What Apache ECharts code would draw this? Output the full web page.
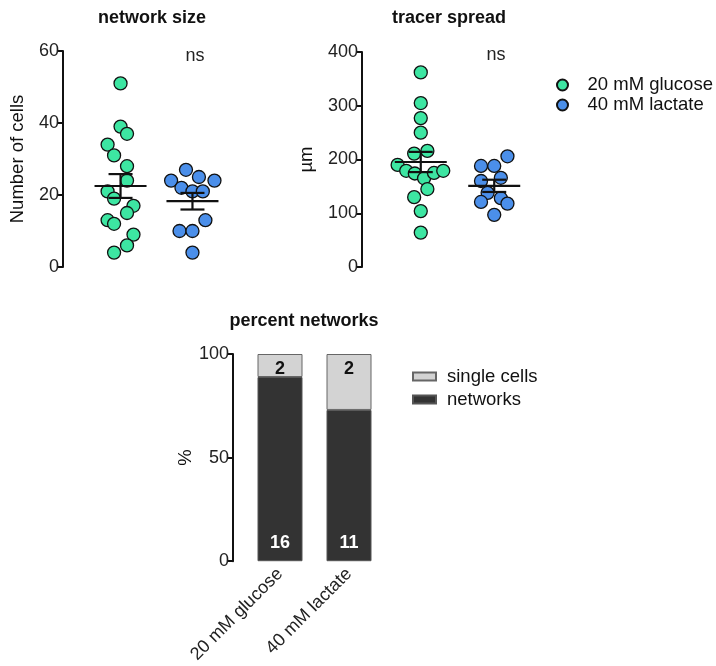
<!DOCTYPE html>
<html><head><meta charset="utf-8">
<script src="https://cdn.jsdelivr.net/npm/echarts@6/dist/echarts.min.js"></script>
<style>html,body{margin:0;padding:0;background:#fff}#c{width:716px;height:666px}</style>
</head><body><div id="c"></div>
<script>
// ---- data ----
const groupNames = ['20 mM glucose', '40 mM lactate'];
// network size (number of cells)
const sizeGlucose = [51, 39, 37, 34, 31, 28, 24, 21, 19, 17, 15, 13, 12, 9, 6, 4];
const sizeGlucoseCol = [0, 0, 1, -2, -1, 1, 1, -2, -1, 2, 1, -2, -1, 2, 1, -1];
const sizeLactate = [27, 24, 25, 24, 22, 21, 21, 13, 10, 10, 4];
const sizeLactateCol = [-1, -3.3, 1, 3.4, -1.7, 0, 1.6, 2, -2, 0, 0];
// tracer spread (µm)
const spreadGlucose = [362, 305, 277, 250, 216, 211, 190, 179, 174, 165, 175, 179, 145, 130, 104, 64];
const spreadGlucoseCol = [0, 0, 0, 0, 1, -1, -3.5, -2.2, -0.9, 0.5, 2, 3.4, 1, -1, 0, 0];
const spreadLactate = [206, 188, 188, 166, 160, 138, 128, 121, 118, 97];
const spreadLactateCol = [2, -2, 0, 1, -2, -1, 1, -2, 2, 0];
// percent networks
const barCategories = ['20 mM glucose', '40 mM lactate'];
const networkPct = [88.9, 73];
const singlePct = [11.1, 27];
const networkCounts = [16, 11];
const singleCounts = [2, 2];
const sizeTicks = {max: 60, interval: 20};
const spreadTicks = {max: 400, interval: 100};
const pctTicks = {max: 100, interval: 50};

// ---- styling ----
const FONT = '"Liberation Sans", Arial, Helvetica, sans-serif';
const GREEN = '#3de6a2', BLUE = '#4b8fea';
const STEP = 0.09;

function pts(vals, cols, center) { return vals.map((v, i) => [center + cols[i] * STEP, v]); }
function stats(vals) {
  const n = vals.length;
  const m = vals.reduce((a, b) => a + b, 0) / n;
  const sd = Math.sqrt(vals.reduce((a, b) => a + (b - m) * (b - m), 0) / (n - 1));
  return [m, sd / Math.sqrt(n)];
}
function errSeries(ai, groups) {
  return {
    type: 'custom', xAxisIndex: ai, yAxisIndex: ai, z: 5, silent: true,
    encode: {x: 0, y: 1},
    data: groups.map((g, i) => [i + 1].concat(stats(g))),
    renderItem: function (params, api) {
      const x = api.value(0), m = api.value(1), s = api.value(2);
      const c = api.coord([x, m]), hi = api.coord([x, m + s]), lo = api.coord([x, m - s]);
      const st = {stroke: '#111', lineWidth: 2.2};
      return {type: 'group', children: [
        {type: 'line', shape: {x1: c[0] - 26, y1: c[1], x2: c[0] + 26, y2: c[1]}, style: st},
        {type: 'line', shape: {x1: c[0], y1: hi[1], x2: c[0], y2: lo[1]}, style: st},
        {type: 'line', shape: {x1: c[0] - 12, y1: hi[1], x2: c[0] + 12, y2: hi[1]}, style: st},
        {type: 'line', shape: {x1: c[0] - 12, y1: lo[1], x2: c[0] + 12, y2: lo[1]}, style: st}
      ]};
    }
  };
}
function yAx(gi, t, name, nameGap, offset) {
  return {
    type: 'value', gridIndex: gi, min: 0, max: t.max, interval: t.interval, offset: offset || 0,
    name: name, nameLocation: 'middle', nameGap: nameGap,
    nameTextStyle: {fontSize: 18.5, fontFamily: FONT, color: '#111'},
    axisLine: {show: true, lineStyle: {color: '#111', width: 2}},
    axisTick: {show: true, length: 6, lineStyle: {color: '#111', width: 2}},
    axisLabel: {fontSize: 18, fontFamily: FONT, color: '#222', margin: 4},
    splitLine: {show: false}
  };
}
function xVal(gi) { return {type: 'value', gridIndex: gi, min: 0.2, max: 2.8, show: false}; }
function scat(ai, name, data, color) {
  return {type: 'scatter', name: name, xAxisIndex: ai, yAxisIndex: ai, data: data, symbolSize: 13, z: 3,
    itemStyle: {color: color, borderColor: '#111', borderWidth: 1.3, opacity: 1}};
}

const titleStyle = {fontSize: 18, fontWeight: 'bold', fontFamily: FONT, color: '#111'};
const nsStyle = {fontSize: 18, fontWeight: 'normal', fontFamily: FONT, color: '#222'};

const option = {
  animation: false,
  backgroundColor: '#fff',
  title: [
    {text: 'network size', left: 152, top: 9, textAlign: 'center', textStyle: titleStyle, padding: 0},
    {text: 'tracer spread', left: 449, top: 9, textAlign: 'center', textStyle: titleStyle, padding: 0},
    {text: 'percent networks', left: 304, top: 312, textAlign: 'center', textStyle: titleStyle, padding: 0},
    {text: 'ns', left: 195, top: 47, textAlign: 'center', textStyle: nsStyle, padding: 0},
    {text: 'ns', left: 496, top: 46, textAlign: 'center', textStyle: nsStyle, padding: 0}
  ],
  legend: [
    {data: groupNames, left: 556, top: 75, padding: 0, orient: 'vertical', itemWidth: 40, itemHeight: 11, itemGap: 0,
      icon: 'circle', selectedMode: false,
      textStyle: {fontSize: 18.5, fontFamily: FONT, color: '#111', lineHeight: 20}},
    {data: ['single cells', 'networks'], left: 412, top: 365, padding: 0, orient: 'vertical', itemWidth: 23, itemHeight: 8, itemGap: 0,
      icon: 'rect', selectedMode: false,
      textStyle: {fontSize: 18.5, fontFamily: FONT, color: '#111', lineHeight: 23, padding: [0, 0, 0, 6]}}
  ],
  grid: [
    {left: 63, top: 51, width: 187, height: 216},
    {left: 362, top: 52, width: 191, height: 215},
    {left: 245.5, top: 354, width: 138, height: 209.3}
  ],
  xAxis: [
    xVal(0), xVal(1),
    {type: 'category', gridIndex: 2, data: barCategories,
      axisLine: {show: false}, axisTick: {show: false},
      axisLabel: {rotate: 45, fontSize: 18, fontFamily: FONT, color: '#222', margin: 10}}
  ],
  yAxis: [
    yAx(0, sizeTicks, 'Number of cells', 36),
    yAx(1, spreadTicks, 'µm', 46),
    yAx(2, pctTicks, '%', 38, 12.5)
  ],
  series: [
    scat(0, groupNames[0], pts(sizeGlucose, sizeGlucoseCol, 1), GREEN),
    scat(0, groupNames[1], pts(sizeLactate, sizeLactateCol, 2), BLUE),
    errSeries(0, [sizeGlucose, sizeLactate]),
    scat(1, groupNames[0], pts(spreadGlucose, spreadGlucoseCol, 1), GREEN),
    scat(1, groupNames[1], pts(spreadLactate, spreadLactateCol, 2), BLUE),
    errSeries(1, [spreadGlucose, spreadLactate]),
    {type: 'bar', name: 'networks', xAxisIndex: 2, yAxisIndex: 2, stack: 'pct', barWidth: 45, data: networkPct,
      itemStyle: {color: '#333333', borderColor: '#555', borderWidth: 1},
      label: {show: true, position: 'insideBottom', distance: 9, color: '#fff', fontWeight: 'bold', fontSize: 18, fontFamily: FONT,
        formatter: p => String(networkCounts[p.dataIndex])}},
    {type: 'bar', name: 'single cells', xAxisIndex: 2, yAxisIndex: 2, stack: 'pct', barWidth: 45, data: singlePct,
      itemStyle: {color: '#d3d3d3', borderColor: '#666', borderWidth: 1},
      label: {show: true, position: 'insideTop', distance: 6, color: '#111', fontWeight: 'bold', fontSize: 18, fontFamily: FONT,
        formatter: p => String(singleCounts[p.dataIndex])}}
  ]
};
const chart = echarts.init(document.getElementById('c'), null, {renderer: 'canvas'});
chart.setOption(option);
</script>
</body></html>
